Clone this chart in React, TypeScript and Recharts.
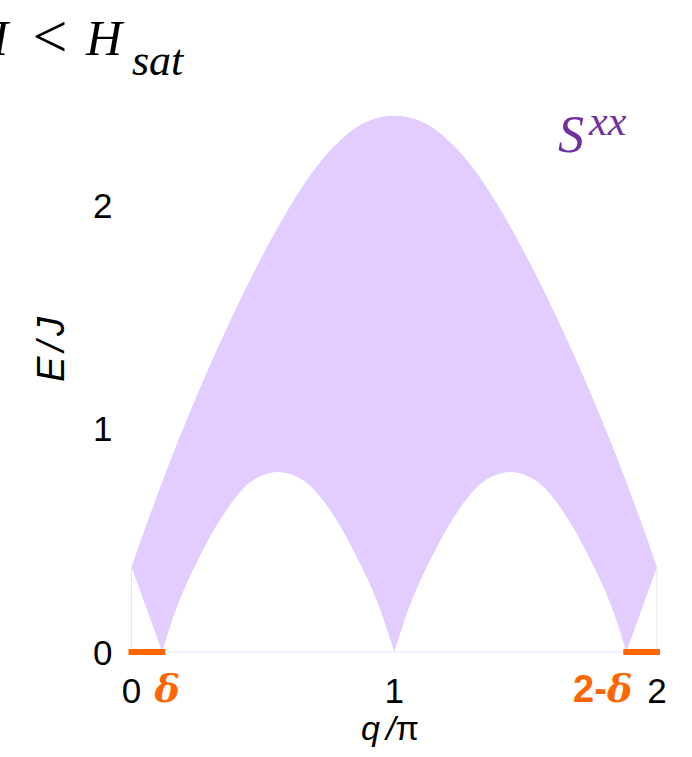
import React from 'react';
import { ComposedChart, Area, XAxis, YAxis, ReferenceLine } from 'recharts';

// Momentum grid (in units of π) on which the continuum edges are sampled
const qValues = [
  0, 0.05, 0.1, 0.117, 0.14, 0.16, 0.18, 0.2, 0.225, 0.25, 0.275, 0.3, 0.325, 0.35, 0.375, 0.4, 0.425, 0.45, 0.475, 0.5,
  0.525, 0.55, 0.575, 0.6, 0.625, 0.65, 0.675, 0.7, 0.725, 0.75, 0.775, 0.8, 0.825, 0.85, 0.875, 0.9, 0.925, 0.95, 0.975, 1.0,
  1.025, 1.05, 1.075, 1.1, 1.125, 1.15, 1.175, 1.2, 1.225, 1.25, 1.275, 1.3, 1.325, 1.35, 1.375, 1.4, 1.425, 1.45, 1.475, 1.5,
  1.525, 1.55, 1.575, 1.6, 1.625, 1.65, 1.675, 1.7, 1.725, 1.75, 1.775, 1.8, 1.82, 1.84, 1.86, 1.883, 1.9, 1.95, 2.0,
];

// Upper edge of the S^xx continuum (E/J)
const upperEdge = [
  0.38, 0.548, 0.708, 0.761, 0.832, 0.892, 0.951, 1.009, 1.08, 1.15, 1.219, 1.286, 1.352, 1.416, 1.479, 1.541, 1.602, 1.662, 1.72, 1.776,
  1.831, 1.885, 1.937, 1.987, 2.035, 2.081, 2.124, 2.164, 2.202, 2.236, 2.266, 2.293, 2.32, 2.342, 2.36, 2.374, 2.385, 2.393, 2.397, 2.398,
  2.397, 2.393, 2.385, 2.374, 2.36, 2.342, 2.32, 2.293, 2.266, 2.236, 2.202, 2.164, 2.124, 2.081, 2.035, 1.987, 1.937, 1.885, 1.831, 1.776,
  1.72, 1.662, 1.602, 1.541, 1.479, 1.416, 1.352, 1.286, 1.219, 1.15, 1.08, 1.009, 0.951, 0.892, 0.832, 0.761, 0.708, 0.548, 0.38,
];

// Lower edge of the S^xx continuum (E/J)
const lowerEdge = [
  0.38, 0.218, 0.055, 0, 0.089, 0.161, 0.224, 0.279, 0.345, 0.405, 0.463, 0.518, 0.569, 0.615, 0.659, 0.697, 0.731, 0.758, 0.777, 0.791,
  0.8, 0.805, 0.804, 0.797, 0.786, 0.77, 0.749, 0.72, 0.684, 0.645, 0.599, 0.551, 0.498, 0.442, 0.384, 0.322, 0.255, 0.18, 0.092, 0,
  0.092, 0.18, 0.255, 0.322, 0.384, 0.442, 0.498, 0.551, 0.599, 0.645, 0.684, 0.72, 0.749, 0.77, 0.786, 0.797, 0.804, 0.805, 0.8, 0.791,
  0.777, 0.758, 0.731, 0.697, 0.659, 0.615, 0.569, 0.518, 0.463, 0.405, 0.345, 0.279, 0.224, 0.161, 0.089, 0, 0.055, 0.218, 0.38,
];

// Incommensurate soft-mode position
const deltaQ = 0.117;

const xTicks = [0, deltaQ, 1, 2 - deltaQ, 2];
const xTickLabels = ['0', 'δ', '1', '2-δ', '2'];
const yTicks = [0, 1, 2];
const yTickLabels = ['0', '1', '2'];

const FILL = '#E3CCFF';
const EDGE = '#EDE0FF';
const ORANGE = '#FF6600';
const PURPLE = '#7030A0';
const SANS = '"Liberation Sans", Arial, sans-serif';
const SERIF = '"DejaVu Serif", "Liberation Serif", serif';
const MATH = '"Liberation Serif", "DejaVu Serif", serif';

const data = qValues.map((q, i) => ({ q, band: [lowerEdge[i], upperEdge[i]] }));

const XTick = (props: any) => {
  const { x, y, payload } = props;
  const idx = xTicks.indexOf(payload.value);
  const label = xTickLabels[idx];
  if (label === 'δ') {
    return (
      <text x={x + 5} y={y + 50} textAnchor="middle" fill={ORANGE} fontFamily={SERIF}
        fontStyle="italic" fontWeight="bold" fontSize={38}>
        {label}
      </text>
    );
  }
  if (label === '2-δ') {
    return (
      <text x={x + 6} y={y + 50} textAnchor="end" fill={ORANGE} fontWeight="bold" fontSize={38}>
        <tspan fontFamily={SANS}>2-</tspan>
        <tspan fontFamily={SERIF} fontStyle="italic">δ</tspan>
      </text>
    );
  }
  return (
    <text x={x} y={y + 51} textAnchor="middle" fill="#000" fontFamily={SANS} fontSize={35}>
      {label}
    </text>
  );
};

const YTick = (props: any) => {
  const { x, y, payload } = props;
  const idx = yTicks.indexOf(payload.value);
  return (
    <text x={x - 19} y={y + 13} textAnchor="end" fill="#000" fontFamily={SANS} fontSize={35}>
      {yTickLabels[idx]}
    </text>
  );
};

export default function App() {
  return (
    <div style={{ position: 'absolute', left: 0, top: 0, width: 692, height: 757, background: '#fff' }}>
      <ComposedChart
        width={692}
        height={757}
        data={data}
        margin={{ top: 93, right: 35, bottom: 65, left: 71.5 }}
      >
        <XAxis
          dataKey="q"
          type="number"
          domain={[0, 2]}
          ticks={xTicks}
          interval={0}
          tick={<XTick />}
          tickLine={false}
          tickSize={0}
          tickMargin={0}
          axisLine={false}
          height={40}
          allowDataOverflow
        />
        <YAxis
          type="number"
          domain={[0, 2.5]}
          ticks={yTicks}
          interval={0}
          tick={<YTick />}
          tickLine={false}
          tickSize={0}
          tickMargin={0}
          axisLine={false}
          width={60}
          allowDataOverflow
        />
        <Area
          dataKey="band"
          type="linear"
          stroke="none"
          fill={FILL}
          fillOpacity={1}
          isAnimationActive={false}
          activeDot={false}
          dot={false}
        />
        <ReferenceLine y={0} stroke={EDGE} strokeWidth={1} ifOverflow="visible" />
        <ReferenceLine
          segment={[{ x: 0, y: 0 }, { x: 0, y: upperEdge[0] }]}
          stroke={EDGE}
          strokeWidth={1}
          ifOverflow="visible"
        />
        <ReferenceLine
          segment={[{ x: 2, y: 0 }, { x: 2, y: upperEdge[upperEdge.length - 1] }]}
          stroke={EDGE}
          strokeWidth={1}
          ifOverflow="visible"
        />
        <ReferenceLine
          segment={[{ x: 0, y: 0 }, { x: deltaQ, y: 0 }]}
          stroke={ORANGE}
          strokeWidth={6}
          strokeLinecap="square"
          ifOverflow="visible"
        />
        <ReferenceLine
          segment={[{ x: 2 - deltaQ, y: 0 }, { x: 2, y: 0 }]}
          stroke={ORANGE}
          strokeWidth={6}
          strokeLinecap="square"
          ifOverflow="visible"
        />
      </ComposedChart>
      <svg
        width={692}
        height={757}
        style={{ position: 'absolute', left: 0, top: 0, pointerEvents: 'none' }}
      >
        {/* field condition */}
        <text x={8} y={55} textAnchor="end" fontFamily={MATH} fontStyle="italic" fontSize={50} fill="#000">H</text>
        <text x={50} y={57} textAnchor="middle" fontFamily={MATH} fontSize={62} fill="#000">&lt;</text>
        <text x={86} y={55} fontFamily={MATH} fontStyle="italic" fontSize={50} fill="#000">H</text>
        <text x={132} y={75} fontFamily={MATH} fontStyle="italic" fontSize={44} fill="#000">sat</text>
        {/* structure factor component */}
        <text x={558} y={152} fontFamily={MATH} fontStyle="italic" fontSize={52} fill={PURPLE}>S</text>
        <text x={589} y={135} fontFamily={MATH} fontStyle="italic" fontSize={42} fill={PURPLE}>xx</text>
        {/* axis titles */}
        <text x={64} y={347} transform="rotate(-90, 64, 347)" textAnchor="middle" fontFamily={SANS}
          fontStyle="italic" fontSize={38} letterSpacing={5} fill="#000">E/J</text>
        <text x={390} y={740} textAnchor="middle" fontFamily={SANS} fontSize={34} fill="#000">
          <tspan fontStyle="italic">q</tspan>
          <tspan fontStyle="italic" dx={6}>/</tspan>
          <tspan>π</tspan>
        </text>
      </svg>
    </div>
  );
}
